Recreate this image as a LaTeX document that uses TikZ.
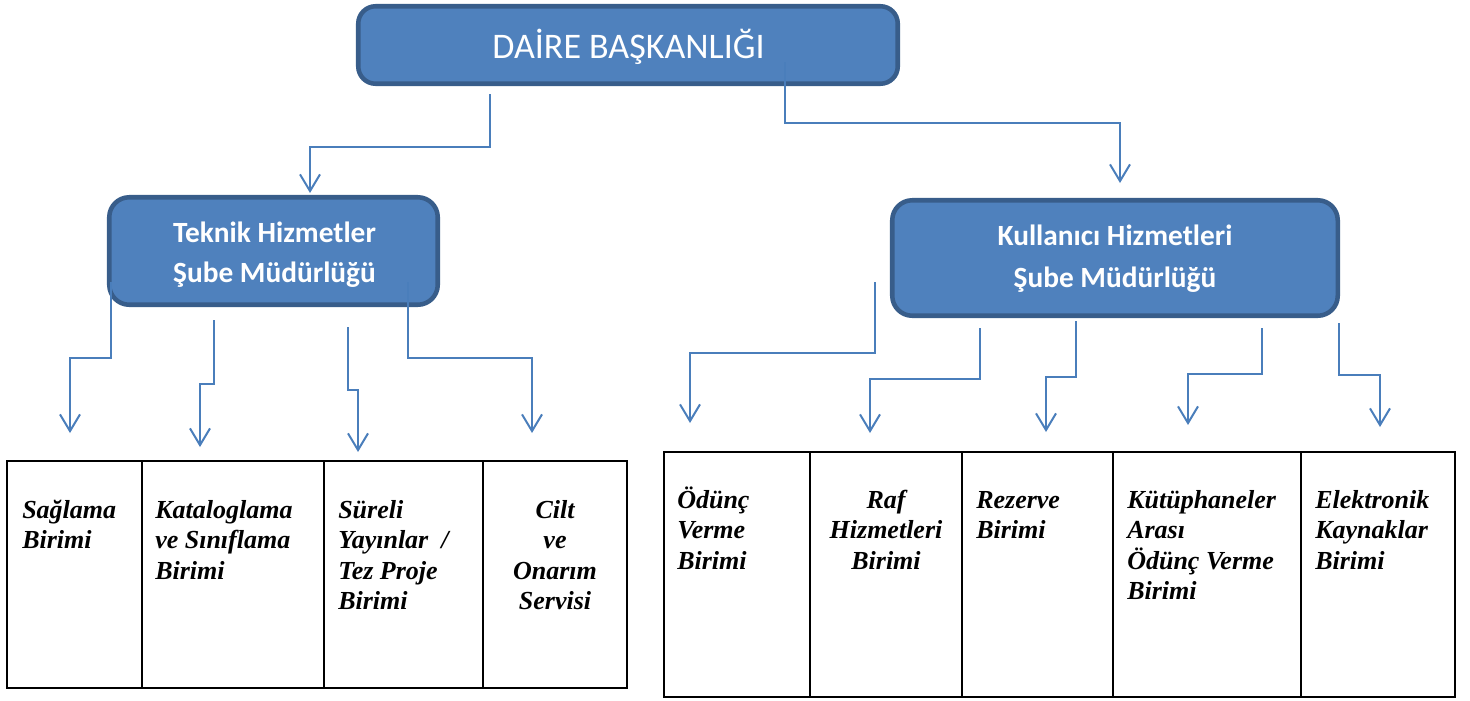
\documentclass[tikz,border=0pt]{standalone}
\usepackage{fontspec}
\setmainfont{Liberation Serif}
\newfontfamily\calibri{Carlito}
\usetikzlibrary{arrows.meta}
\definecolor{boxfill}{HTML}{4F81BD}
\definecolor{boxline}{HTML}{385D8A}
\definecolor{connc}{HTML}{4A7EBB}
\newcommand\uu{0.75pt}
\tikzset{
  bigbox/.style={draw=boxline, fill=boxfill, line width=3.4pt, rounded corners=13pt, inner sep=0pt},
  conn/.style={draw=connc, line width=1.5pt, -{Straight Barb[length=12.5pt,width=15pt]}},
  toptxt/.style={text=white, font=\calibri\fontsize{27}{32}\selectfont, inner sep=0pt, anchor=base},
  subtxt/.style={text=white, font=\calibri\bfseries\fontsize{22}{26}\selectfont, inner sep=0pt, anchor=base},
  cell/.style={draw=black, line width=1.6pt, inner sep=0pt},
  celltxt/.style={font=\fontsize{19.5}{23}\selectfont\bfseries\itshape, inner sep=0pt},
}
\newcommand\cellbox[5]{%
  \node[cell, minimum width={(#4-#2)*\uu}, minimum height={(#5-#3)*\uu}] (#1) at ({(#2+#4)/2},{(#3+#5)/2}) {};}
\newcommand\celllines[5]{%
  \foreach \lineTxt [count=\i] in {#5}
    \node[celltxt, anchor=#2] (#1-\i) at (#3,{#4+30.5*(\i-1)}) {\lineTxt};}
\begin{document}
\begin{tikzpicture}[x=0.75pt,y=-0.75pt]
\useasboundingbox (0,0) rectangle (1470,700);
% boxes
\node[bigbox, minimum width={539.5*\uu}, minimum height={77.5*\uu}] (top) at (628,45) {};
\node[toptxt] (toptext) at (628.5,58) {DAİRE BAŞKANLIĞI};
\node[bigbox, minimum width={328.5*\uu}, minimum height={107.5*\uu}, rounded corners=15pt] (tek) at (273.5,251) {};
\node[subtxt] (tek1) at (274.5,242) {Teknik Hizmetler};
\node[subtxt] (tek2) at (274.5,282) {Şube Müdürlüğü};
\node[bigbox, minimum width={445.5*\uu}, minimum height={115.5*\uu}, rounded corners=15pt] (kul) at (1115,258) {};
\node[subtxt] (kul1) at (1115,245) {Kullanıcı Hizmetleri};
\node[subtxt] (kul2) at (1115,287) {Şube Müdürlüğü};
% connector coordinates
\coordinate (t0s) at (490,94);   \coordinate (t0e) at (310,193);
\coordinate (t1s) at (785,62);   \coordinate (t1e) at (1120,183);
\coordinate (a1s) at (111,282);  \coordinate (a1e) at (70,433);
\coordinate (a2s) at (214,320);  \coordinate (a2e) at (200,447);
\coordinate (a3s) at (348,327);  \coordinate (a3e) at (358,452);
\coordinate (a4s) at (408,282);  \coordinate (a4e) at (532,433);
\coordinate (b1s) at (875,282);  \coordinate (b1e) at (690,423);
\coordinate (b2s) at (980,328);  \coordinate (b2e) at (870,433);
\coordinate (b3s) at (1076,321); \coordinate (b3e) at (1046,432);
\coordinate (b4s) at (1262,328); \coordinate (b4e) at (1188,425);
\coordinate (b5s) at (1339,323); \coordinate (b5e) at (1380,427);
\draw[conn] (t0s) -- ++(0,53) -| (t0e);
\draw[conn] (t1s) -- ++(0,61) -| (t1e);
\draw[conn] (a1s) -- ++(0,76) -| (a1e);
\draw[conn] (a2s) -- ++(0,64) -| (a2e);
\draw[conn] (a3s) -- ++(0,63) -| (a3e);
\draw[conn] (a4s) -- ++(0,76) -| (a4e);
\draw[conn] (b1s) -- ++(0,71) -| (b1e);
\draw[conn] (b2s) -- ++(0,51) -| (b2e);
\draw[conn] (b3s) -- ++(0,56) -| (b3e);
\draw[conn] (b4s) -- ++(0,46) -| (b4e);
\draw[conn] (b5s) -- ++(0,52) -| (b5e);
% left table
\cellbox{L1}{7}{461}{142}{688}
\cellbox{L2}{142}{461}{324}{688}
\cellbox{L3}{324}{461}{483}{688}
\cellbox{L4}{483}{461}{627}{688}
\celllines{l1}{base west}{22}{518}{Sağlama,Birimi}
\celllines{l2}{base west}{155}{518}{Kataloglama,ve Sınıflama,Birimi}
\celllines{l3}{base west}{338}{518}{Süreli,Yayınlar\ \ /,Tez Proje,Birimi}
\celllines{l4}{base}{555}{518}{Cilt,ve,Onarım,Servisi}
% right table
\cellbox{R1}{664}{452}{810}{697}
\cellbox{R2}{810}{452}{962}{697}
\cellbox{R3}{962}{452}{1113}{697}
\cellbox{R4}{1113}{452}{1301}{697}
\cellbox{R5}{1301}{452}{1455}{697}
\celllines{r1}{base west}{677}{508}{Ödünç,Verme,Birimi}
\celllines{r2}{base}{886}{508}{Raf,Hizmetleri,Birimi}
\celllines{r3}{base west}{976}{508}{Rezerve,Birimi}
\celllines{r4}{base west}{1127}{508}{Kütüphaneler,Arası,Ödünç Verme,Birimi}
\celllines{r5}{base west}{1315}{508}{Elektronik,Kaynaklar,Birimi}
\end{tikzpicture}
\end{document}
